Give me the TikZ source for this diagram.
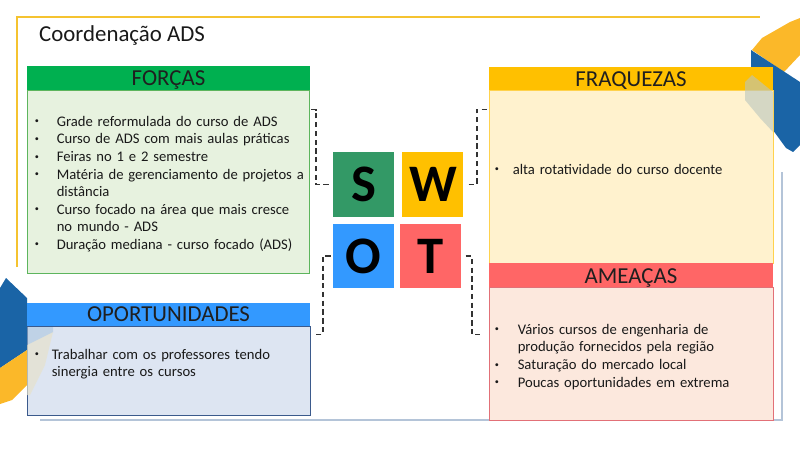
\documentclass[tikz,border=0pt]{standalone}
\usepackage{fontspec}
\setmainfont{Carlito}
\usetikzlibrary{positioning, fit, calc}
\tikzset{
  node distance=0.24cm,
  every node/.style={align=center}
}

\definecolor{frameYellow}{HTML}{F5C330}
\definecolor{frameBlue}{HTML}{B4C4D8}
\definecolor{decoYellow}{HTML}{FBB829}
\definecolor{decoBlue}{HTML}{1A64A6}
\definecolor{decoGray}{HTML}{B9C6BE}
\definecolor{decoBeige}{HTML}{E6E2CC}
\definecolor{forcasHead}{HTML}{00B050}
\definecolor{forcasFill}{HTML}{E7F2DF}
\definecolor{forcasLine}{HTML}{5DB55D}
\definecolor{fraqHead}{HTML}{FFC000}
\definecolor{fraqFill}{HTML}{FFF2CE}
\definecolor{fraqLine}{HTML}{FFD24D}
\definecolor{ameacHead}{HTML}{FF6666}
\definecolor{ameacFill}{HTML}{FCE8DD}
\definecolor{ameacLine}{HTML}{E27077}
\definecolor{oportHead}{HTML}{3399FF}
\definecolor{oportFill}{HTML}{DDE5F2}
\definecolor{oportLine}{HTML}{3B5A8C}
\definecolor{swotS}{HTML}{339966}

\newlength{\bulind}
\newcommand{\smallbul}{\raisebox{0.35ex}{\fontsize{7}{7}\selectfont\textbullet}}
% bullet line and continuation line
\newcommand{\bitem}[1]{\par\noindent\hbox to\bulind{\smallbul\hfil}#1}
\newcommand{\bcont}[1]{\par\noindent\hbox to\bulind{\hfil}#1}

\begin{document}
\begin{tikzpicture}[x=0.03cm, y=-0.03cm]
\useasboundingbox (0,0) rectangle (800,450);
\tikzstyle{head}=[inner sep=0, anchor=base, font=\fontsize{19.5}{22}\selectfont, text=black!88]
\tikzstyle{body}=[inner sep=0, line width=0.8pt]
\tikzstyle{items}=[anchor=north west, inner sep=0, align=left, text width=9cm,
  font=\fontsize{12.5}{15}\selectfont, text=black!90]
\tikzstyle{square}=[minimum width=1.83cm, minimum height=1.92cm, inner sep=0,
  font=\fontsize{45}{45}\selectfont\bfseries, text=black]
\tikzstyle{bracket}=[draw=black!80, line width=1.4pt, dash pattern=on 4.5pt off 3pt]

% slide frame
\draw[frameYellow, line width=1.6pt] (17,267) -- (17,17) -- (760,17);
\draw[frameBlue, line width=1.8pt] (40,420) -- (782,420) -- (782,172);

% corner shapes
\fill[decoYellow] (752,50) -- (762,38) -- (790,22) -- (800,18) -- (800,55) -- (784,72) -- cycle;
\fill[decoBlue] (751,50) -- (800,82) -- (800,145) -- (793,152) -- (786,148) -- (751,100) -- cycle;
\fill[decoBlue] (0,288) -- (6,278) -- (27,298) -- (27,350) -- (0,368) -- cycle;
\fill[decoYellow] (0,368) -- (27,350) -- (27,385) -- (12,400) -- (0,404) -- cycle;

\node[anchor=west, inner sep=0, font=\fontsize{19.5}{22}\selectfont, text=black!90]
  (title) at (39,35) {Coordenação ADS};

% boxes
\node[body, draw=forcasLine, fill=forcasFill, fit={(27,90) (309,273)}] (forcas_body) {};
\node[body, fill=forcasHead, fit={(27,66) (310,90)}] (forcas_head) {};
\node[body, draw=fraqLine, fill=fraqFill, fit={(489,90) (773,263)}] (fraquezas_body) {};
\node[body, fill=fraqHead, fit={(489,67) (773,90)}] (fraquezas_head) {};
\node[body, draw=ameacLine, fill=ameacFill, fit={(489,287) (773,420)}] (ameacas_body) {};
\node[body, fill=ameacHead, fit={(489,263) (773,287)}] (ameacas_head) {};
\node[body, draw=oportLine, fill=oportFill, fit={(27,326) (310,415)}] (oport_body) {};
\node[body, fill=oportHead, fit={(27,303) (310,326)}] (oport_head) {};

% see-through parts of the corner shapes
\fill[decoGray, opacity=0.6] (745,82) -- (752,75) -- (773,92) -- (773,132) -- (760,118) -- (745,100) -- cycle;
\fill[decoBeige, opacity=0.7] (27,345) -- (53,332) -- (45,365) -- (30,395) -- (27,395) -- cycle;
\fill[decoBlue!40, opacity=0.5] (27,327) -- (53,327) -- (53,332) -- (27,345) -- cycle;

% forcas
\node[head] (forcas_title) at ($(forcas_head.center)+(0,8)$) {FORÇAS};
\node[items] (forcas_items) at ($(forcas_body.north west)+(8,19)$) {%
  \setlength{\bulind}{0.66cm}%
  \bitem{Grade reformulada do curso de ADS}
  \bitem{Curso de ADS com mais aulas práticas}
  \bitem{Feiras no 1 e 2 semestre}
  \bitem{Matéria de gerenciamento de projetos a}
  \bcont{distância}
  \bitem{Curso focado na área que mais cresce}
  \bcont{no mundo - ADS}
  \bitem{Duração mediana - curso focado (ADS)}};

% fraquezas
\node[head] (fraquezas_title) at ($(fraquezas_head.center)+(0,8)$) {FRAQUEZAS};
\node[items] (fraquezas_items) at ($(fraquezas_body.north west)+(6,67)$) {%
  \setlength{\bulind}{0.54cm}%
  \bitem{alta rotatividade do curso docente}};

% ameacas
\node[head] (ameacas_title) at ($(ameacas_head.center)+(0,8)$) {AMEAÇAS};
\node[items] (ameacas_items) at ($(ameacas_body.north west)+(6,30)$) {%
  \setlength{\bulind}{0.69cm}%
  \bitem{Vários cursos de engenharia de}
  \bcont{produção fornecidos pela região}
  \bitem{Saturação do mercado local}
  \bitem{Poucas oportunidades em extrema}};

% oportunidades
\node[head] (oport_title) at ($(oport_head.center)+(0,7)$) {OPORTUNIDADES};
\node[items] (oport_items) at ($(oport_body.north west)+(8,16)$) {%
  \setlength{\bulind}{0.51cm}%
  \bitem{Trabalhar com os professores tendo}
  \bcont{sinergia entre os cursos}};

% swot squares
\node[square, fill=swotS] (S) at (363.5,184.5) {S};
\node[square, fill=fraqHead, right=of S] (W) {W};
\node[square, fill=oportHead, below=0.21cm of S] (O) {O};
\node[square, fill=ameacHead, right=0.18cm of O] (T) {T};

% brackets
\coordinate (fo_c) at ($(forcas_body.north east)+(0,20)$);
\coordinate (fr_c) at ($(fraquezas_body.north west)+(0,20)$);
\coordinate (op_c) at ($(oport_body.north east)+(3,9)$);
\coordinate (am_c) at ($(ameacas_body.north west)+(-5,48)$);
\draw[bracket] ($(S.west)+(-4,0)$) -- ++(-13,0) |- (fo_c);
\draw[bracket] ($(W.east)+(5,0)$) -- ++(8,0) |- (fr_c);
\draw[bracket] ($(O.west)+(-2,0)$) -- ++(-8,0) |- (op_c);
\draw[bracket] ($(T.east)+(4,0)$) -- ++(6,0) |- (am_c);

\end{tikzpicture}
\end{document}
